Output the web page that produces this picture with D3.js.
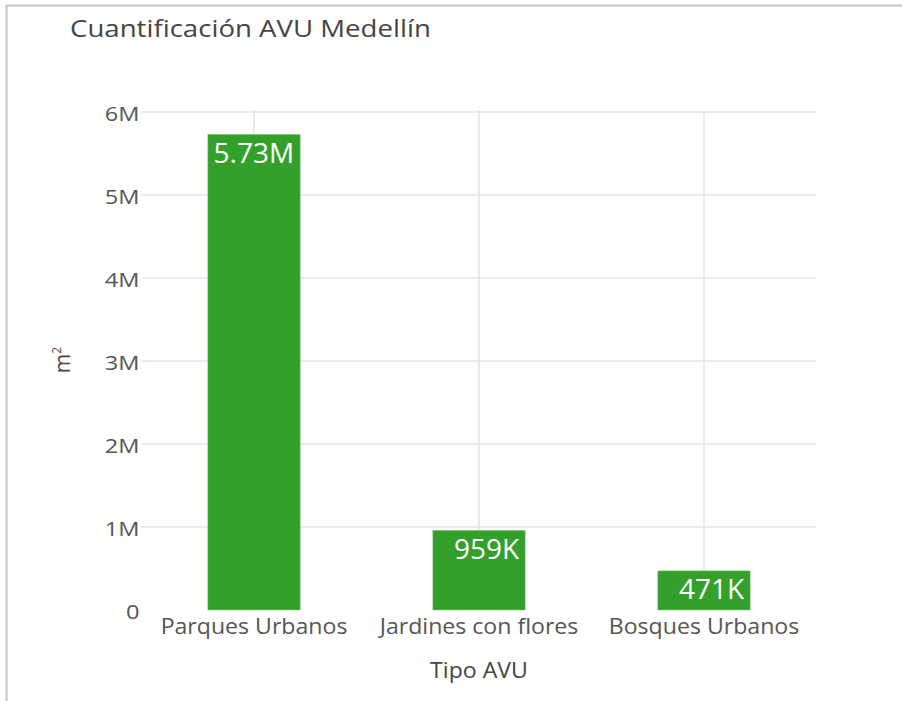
<!DOCTYPE html>
<html>
<head>
<meta charset="utf-8">
<script src="https://cdn.jsdelivr.net/npm/d3@7"></script>
<style>
  body { margin: 0; background: #fff; }
  text { font-family: "Open Sans", "Noto Sans", sans-serif; }
</style>
</head>
<body>
<script>
// Chart data
var categories = ["Parques Urbanos", "Jardines con flores", "Bosques Urbanos"];
var areaValues = [5730000, 959000, 471000];
var valueLabels = ["5.73M", "959K", "471K"];
var yTicks = [0, 1e6, 2e6, 3e6, 4e6, 5e6, 6e6];
var yTickLabels = ["0", "1M", "2M", "3M", "4M", "5M", "6M"];

const width = 902;
const height = 701;
const plotLeft = 141.5;
const plotRight = 816.5;
const plotTop = 110;
const plotBottom = 610;

// Stretches text horizontally (the reference lettering is a bit wide)
let stretch = (sel, k) => {
    sel.each(function () {
        let len = this.getComputedTextLength();
        d3.select(this)
            .attr("textLength", len * k)
            .attr("lengthAdjust", "spacingAndGlyphs");
    });
};

// Create main svg element
let svgDoc = d3.select("body")
    .append("svg")
    .attr("width", width)
    .attr("height", height);

// Frame lines (top and left)
svgDoc.append("line")
    .attr("x1", 6).attr("y1", 5.5)
    .attr("x2", width).attr("y2", 5.5)
    .attr("stroke", "#c4c4c4").attr("stroke-width", 2);
svgDoc.append("line")
    .attr("x1", 6.5).attr("y1", 5)
    .attr("x2", 6.5).attr("y2", height)
    .attr("stroke", "#c4c4c4").attr("stroke-width", 2);

// Scales
let x = d3.scaleBand()
    .domain(categories)
    .range([plotLeft, plotRight])
    .paddingInner(0.59)
    .paddingOuter(0.295);

let y = d3.scaleLinear()
    .domain([0, 6.024e6])
    .range([plotBottom, plotTop]);

// Horizontal grid lines
svgDoc.append("g")
    .selectAll("line")
    .data(yTicks.slice(1))
    .enter()
    .append("line")
    .attr("x1", plotLeft)
    .attr("x2", plotRight)
    .attr("y1", d => y(d))
    .attr("y2", d => y(d))
    .attr("stroke", "#e3e3e3")
    .attr("stroke-width", 1.5);

// Vertical grid lines at the categories
svgDoc.append("g")
    .selectAll("line")
    .data(categories)
    .enter()
    .append("line")
    .attr("x1", d => x(d) + x.bandwidth() / 2)
    .attr("x2", d => x(d) + x.bandwidth() / 2)
    .attr("y1", plotTop)
    .attr("y2", plotBottom)
    .attr("stroke", "#e3e3e3")
    .attr("stroke-width", 1.5);

// Y axis labels
let yAxis = d3.axisLeft(y)
    .tickValues(yTicks)
    .tickFormat((d, i) => yTickLabels[i])
    .tickSize(0)
    .tickPadding(0);

let yAxisG = svgDoc.append("g")
    .attr("transform", `translate(${plotLeft - 2},0)`)
    .call(yAxis);
yAxisG.select(".domain").remove();
yAxisG.selectAll("text")
    .attr("font-size", 20)
    .attr("dy", 8.5)
    .attr("fill", "#555")
    .attr("font-family", "'Open Sans', sans-serif")
    .call(stretch, 1.18);

// X axis labels
let xAxis = d3.axisBottom(x)
    .tickSize(0)
    .tickPadding(0);

let xAxisG = svgDoc.append("g")
    .attr("transform", `translate(0,${plotBottom + 9})`)
    .call(xAxis);
xAxisG.select(".domain").remove();
xAxisG.selectAll("text")
    .attr("font-size", 21)
    .attr("fill", "#555")
    .attr("font-family", "'Open Sans', sans-serif")
    .call(stretch, 1.1);

// Bars
svgDoc.append("g")
    .selectAll("rect")
    .data(areaValues)
    .enter()
    .append("rect")
    .attr("x", (d, i) => x(categories[i]))
    .attr("y", d => y(d))
    .attr("width", x.bandwidth())
    .attr("height", d => y(0) - y(d))
    .attr("fill", "#33a02c")
    .attr("stroke", "#7cc576")
    .attr("stroke-width", 0.5);

// Value labels inside bars
svgDoc.append("g")
    .selectAll("text")
    .data(areaValues)
    .enter()
    .append("text")
    .attr("x", (d, i) => x(categories[i]) + x.bandwidth() - 6)
    .attr("y", d => y(d) + 28.5)
    .attr("text-anchor", "end")
    .attr("font-size", 28)
    .attr("fill", "#fff")
    .text((d, i) => valueLabels[i]);

// Title
svgDoc.append("text")
    .attr("x", 70)
    .attr("y", 37)
    .attr("font-size", 23)
    .attr("fill", "#444")
    .text("Cuantificación AVU Medellín")
    .call(stretch, 1.2);

// X axis title
svgDoc.append("text")
    .attr("x", (plotLeft + plotRight) / 2)
    .attr("y", 678)
    .attr("text-anchor", "middle")
    .attr("font-size", 21)
    .attr("fill", "#444")
    .text("Tipo AVU")
    .call(stretch, 1.1);

// Y axis title
let yTitle = svgDoc.append("text")
    .attr("transform", `translate(70,${(plotTop + plotBottom) / 2}) rotate(-90)`)
    .attr("text-anchor", "middle")
    .attr("font-size", 21)
    .attr("fill", "#444");
yTitle.append("tspan").text("m");
yTitle.append("tspan")
    .attr("font-size", 12)
    .attr("dy", -9)
    .text("2");
</script>
</body>
</html>
